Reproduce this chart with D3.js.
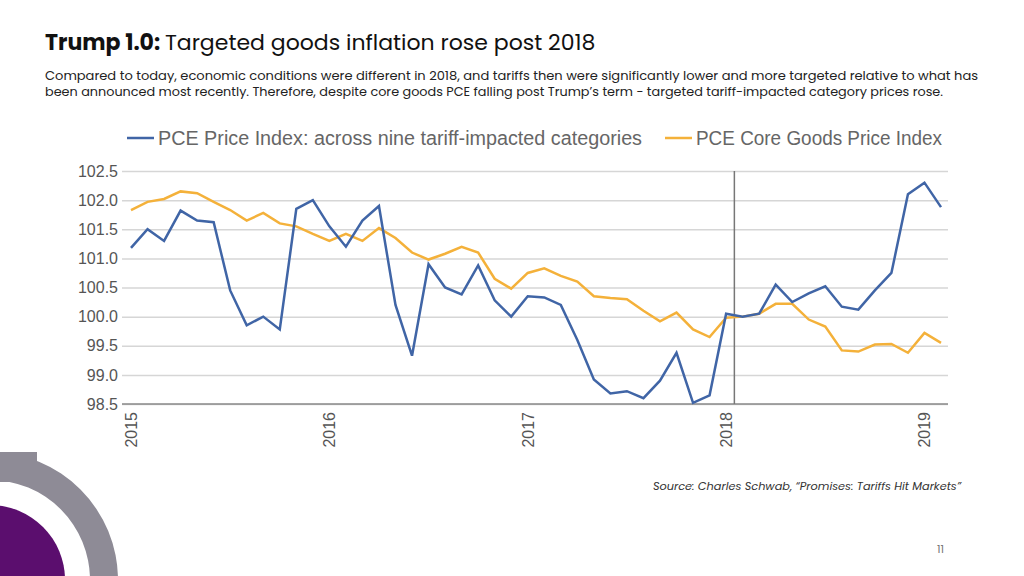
<!DOCTYPE html>
<html><head><meta charset="utf-8">
<script src="https://cdn.jsdelivr.net/npm/d3@7"></script>
<style>body{margin:0;background:#fff;}svg{display:block;font-family:"Poppins","Inter","Open Sans",sans-serif;}</style>
</head><body>
<script>
const YEAR_LABELS = ["2015","2016","2017","2018","2019"];
const Y_TICKS = [98.5,99.0,99.5,100.0,100.5,101.0,101.5,102.0,102.5];
// monthly, Jan 2015 – Feb 2019
const tariffCategories = [
  101.18,101.5,101.3,101.82,101.65,101.62,100.45,99.85,100.0,99.78,101.85,102.0,
  101.55,101.2,101.65,101.9,100.2,99.33,100.9,100.5,100.38,100.88,100.28,100.0,
  100.35,100.33,100.2,99.6,98.92,98.68,98.72,98.6,98.9,99.38,98.52,98.65,
  100.05,100.0,100.05,100.55,100.25,100.4,100.52,100.17,100.12,100.45,100.75,102.1,
  102.3,101.88];
const coreGoods = [
  101.83,101.97,102.02,102.15,102.12,101.97,101.83,101.65,101.78,101.6,101.55,101.42,
  101.3,101.42,101.3,101.52,101.35,101.1,100.98,101.08,101.2,101.1,100.65,100.48,
  100.75,100.83,100.7,100.6,100.35,100.32,100.3,100.1,99.92,100.07,99.78,99.65,
  99.98,100.0,100.05,100.22,100.22,99.95,99.83,99.42,99.4,99.52,99.53,99.38,
  99.72,99.55];

const W = 1024, H = 576;
const svg = d3.select("body").append("svg").attr("width", W).attr("height", H);

// decorative corner
const deco = svg.append("g");
deco.append("path")
  .attr("d", d3.arc().innerRadius(100).outerRadius(128).startAngle(0).endAngle(Math.PI)())
  .attr("transform", "translate(-10,580)").attr("fill", "#8e8b96");
deco.append("rect").attr("x", 0).attr("y", 452).attr("width", 37).attr("height", 30).attr("fill", "#8e8b96");
deco.append("circle").attr("cx", -10).attr("cy", 580).attr("r", 75).attr("fill", "#5b0e6e");

// titles
const title = svg.append("text").attr("x", 45).attr("y", 50).attr("font-size", 22).attr("fill", "#111");
title.append("tspan").attr("font-weight", 700).text("Trump 1.0: ");
title.append("tspan").text("Targeted goods inflation rose post 2018");
svg.append("text").attr("x", 45).attr("y", 80).attr("font-size", 12.4).attr("fill", "#222")
  .attr("textLength", 933).attr("lengthAdjust", "spacingAndGlyphs")
  .text("Compared to today, economic conditions were different in 2018, and tariffs then were significantly lower and more targeted relative to what has");
svg.append("text").attr("x", 45).attr("y", 96).attr("font-size", 12.4).attr("fill", "#222")
  .attr("textLength", 898).attr("lengthAdjust", "spacingAndGlyphs")
  .text("been announced most recently. Therefore, despite core goods PCE falling post Trump’s term - targeted tariff-impacted category prices rose.");

const x = d3.scaleLinear().domain([0, 49]).range([131, 941]);
const y = d3.scaleLinear().domain([98.5, 102.5]).range([404, 171]);
const chartFont = "'Liberation Sans', Arial, sans-serif";

// grid + y labels
svg.append("g")
  .attr("transform", "translate(122,0)")
  .call(d3.axisLeft(y).tickValues(Y_TICKS).tickFormat(d3.format(".1f")).tickSize(-(948 - 122)).tickPadding(4))
  .call(ax => ax.select(".domain").remove())
  .call(ax => ax.selectAll(".tick line").attr("stroke", "#d6d6d6").attr("stroke-width", 1.5))
  .call(ax => ax.selectAll("text").attr("font-size", 16).attr("fill", "#555").attr("font-family", chartFont));
svg.append("line").attr("x1", 122).attr("x2", 948).attr("y1", y(98.5)).attr("y2", y(98.5))
  .attr("stroke", "#8a8a8a").attr("stroke-width", 1.5);

// x labels
svg.append("g").selectAll("text").data(YEAR_LABELS).join("text")
  .attr("transform", (d, i) => `translate(${x(i * 12) + 6},${412}) rotate(-90)`)
  .attr("text-anchor", "end").attr("font-size", 16).attr("fill", "#555").attr("font-family", chartFont)
  .text(d => d);

// 2018 marker
svg.append("line").attr("x1", x(36.5)).attr("x2", x(36.5)).attr("y1", 171).attr("y2", 404)
  .attr("stroke", "#777").attr("stroke-width", 1.5);

const line = d3.line().x((d, i) => x(i)).y(d => y(d));
svg.append("path").datum(coreGoods).attr("d", line).attr("fill", "none").attr("stroke", "#f4b13a").attr("stroke-width", 2.5);
svg.append("path").datum(tariffCategories).attr("d", line).attr("fill", "none").attr("stroke", "#4065a6").attr("stroke-width", 2.5);

// legend
const legend = [
  {label: "PCE Price Index: across nine tariff-impacted categories", color: "#4065a6", x: 127, w: 484},
  {label: "PCE Core Goods Price Index", color: "#f4b13a", x: 665, w: 246}
];
const lg = svg.append("g").selectAll("g").data(legend).join("g").attr("transform", d => `translate(${d.x},138)`);
lg.append("line").attr("x1", 0).attr("x2", 27).attr("stroke", d => d.color).attr("stroke-width", 2.5);
lg.append("text").attr("x", 31).attr("dy", "0.35em").attr("font-size", 19.5).attr("fill", "#666")
  .attr("font-family", chartFont).attr("textLength", d => d.w).attr("lengthAdjust", "spacingAndGlyphs")
  .text(d => d.label);

svg.append("text").attr("x", 961).attr("y", 490).attr("text-anchor", "end").attr("font-size", 11.3)
  .attr("font-style", "italic").attr("fill", "#333").text("Source: Charles Schwab, “Promises: Tariffs Hit Markets”");
svg.append("text").attr("x", 944).attr("y", 553).attr("text-anchor", "end").attr("font-size", 11)
  .attr("fill", "#777").text("11");
</script>
</body></html>
